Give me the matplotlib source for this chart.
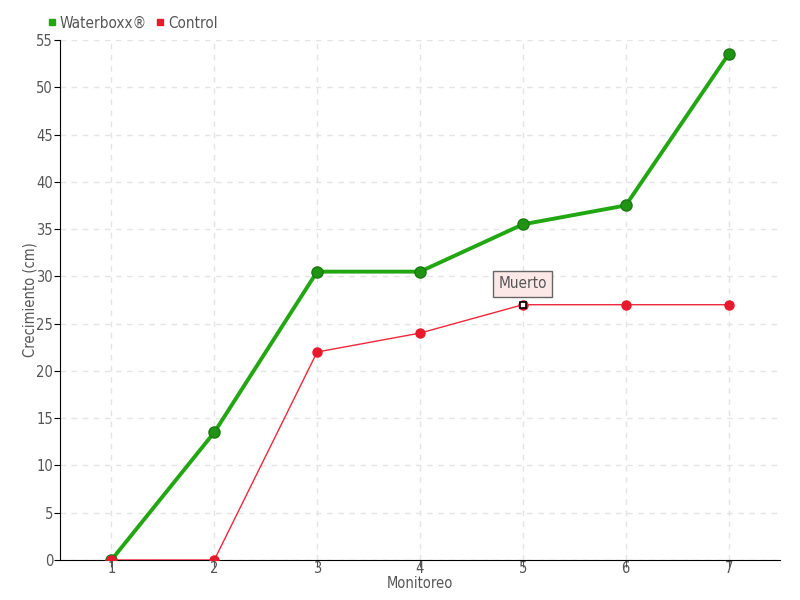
import matplotlib
matplotlib.use("Agg")
import matplotlib.pyplot as plt

plt.rcParams['font.family'] = ['DejaVu Sans']
plt.rcParams['font.stretch'] = 'condensed'

monitoreo = [1, 2, 3, 4, 5, 6, 7]
waterboxx = [0, 13.5, 30.5, 30.5, 35.5, 37.5, 53.5]
control = [0, 0, 22, 24, 27, 27, 27]
yticks = list(range(0, 60, 5))

txt = '#555555'

fig = plt.figure(figsize=(8, 6), dpi=100)
ax = fig.add_axes([60 / 800, 40 / 600, 720 / 800, 520 / 600])

ax.plot(monitoreo, waterboxx, color='#22a612', lw=2.8, marker='o', ms=8,
        mfc='#1f9414', mec='#1a7a10', mew=1, zorder=3, label='Waterboxx®')
ax.plot(monitoreo, control, color='#f0273a', lw=1, marker='o', ms=6.5,
        mfc='#e8192c', mec='#e8192c', zorder=4, label='Control')

# punto marcado "Muerto"
ax.plot([5], [27], marker='s', ms=5, mfc='white', mec='black', mew=1.2, zorder=5)
ax.annotate('Muerto', xy=(5, 27), xytext=(5, 29.2), ha='center', va='center',
            fontsize=11, color=txt,
            bbox=dict(boxstyle='square,pad=0.35', fc='#fde8e8', ec='#666666', lw=1),
            zorder=6)

ax.set_xlim(0.5, 7.5)
ax.set_ylim(0, 55)
ax.set_xticks(monitoreo)
ax.set_yticks(yticks)
ax.grid(True, color='#e4e4e4', ls=(0, (4, 4)), lw=1)
ax.set_axisbelow(True)
for s in ['top', 'right']:
    ax.spines[s].set_visible(False)
ax.spines['left'].set_color('black')
ax.spines['bottom'].set_color('black')
ax.tick_params(axis='y', colors='black', labelcolor=txt, labelsize=10.5,
               length=4, direction='out', pad=1)
ax.tick_params(axis='x', colors='#555555', labelcolor=txt, labelsize=10.5,
               length=5, direction='out', pad=-4)

ax.set_xlabel('Monitoreo', fontsize=10.5, color=txt, va='center')
ax.xaxis.set_label_coords(0.5, -(584 - 560) / 520)
ax.set_ylabel('Crecimiento (cm)', fontsize=10.5, color=txt, va='center')
ax.yaxis.set_label_coords(-(60 - 30) / 720, 0.5)

leg = fig.legend(loc='upper left', bbox_to_anchor=(34 / 800, 1 - 2 / 600), ncol=2,
                 frameon=False, fontsize=11, handlelength=0.5, handletextpad=0.3,
                 columnspacing=0.6, labelcolor=txt)
for h, c in zip(leg.legend_handles, ['#22a612', '#e8192c']):
    h.set_linestyle('none')
    h.set_marker('s')
    h.set_markersize(5)
    h.set_markerfacecolor(c)
    h.set_markeredgecolor(c)

fig.savefig('out.png', dpi=100)
